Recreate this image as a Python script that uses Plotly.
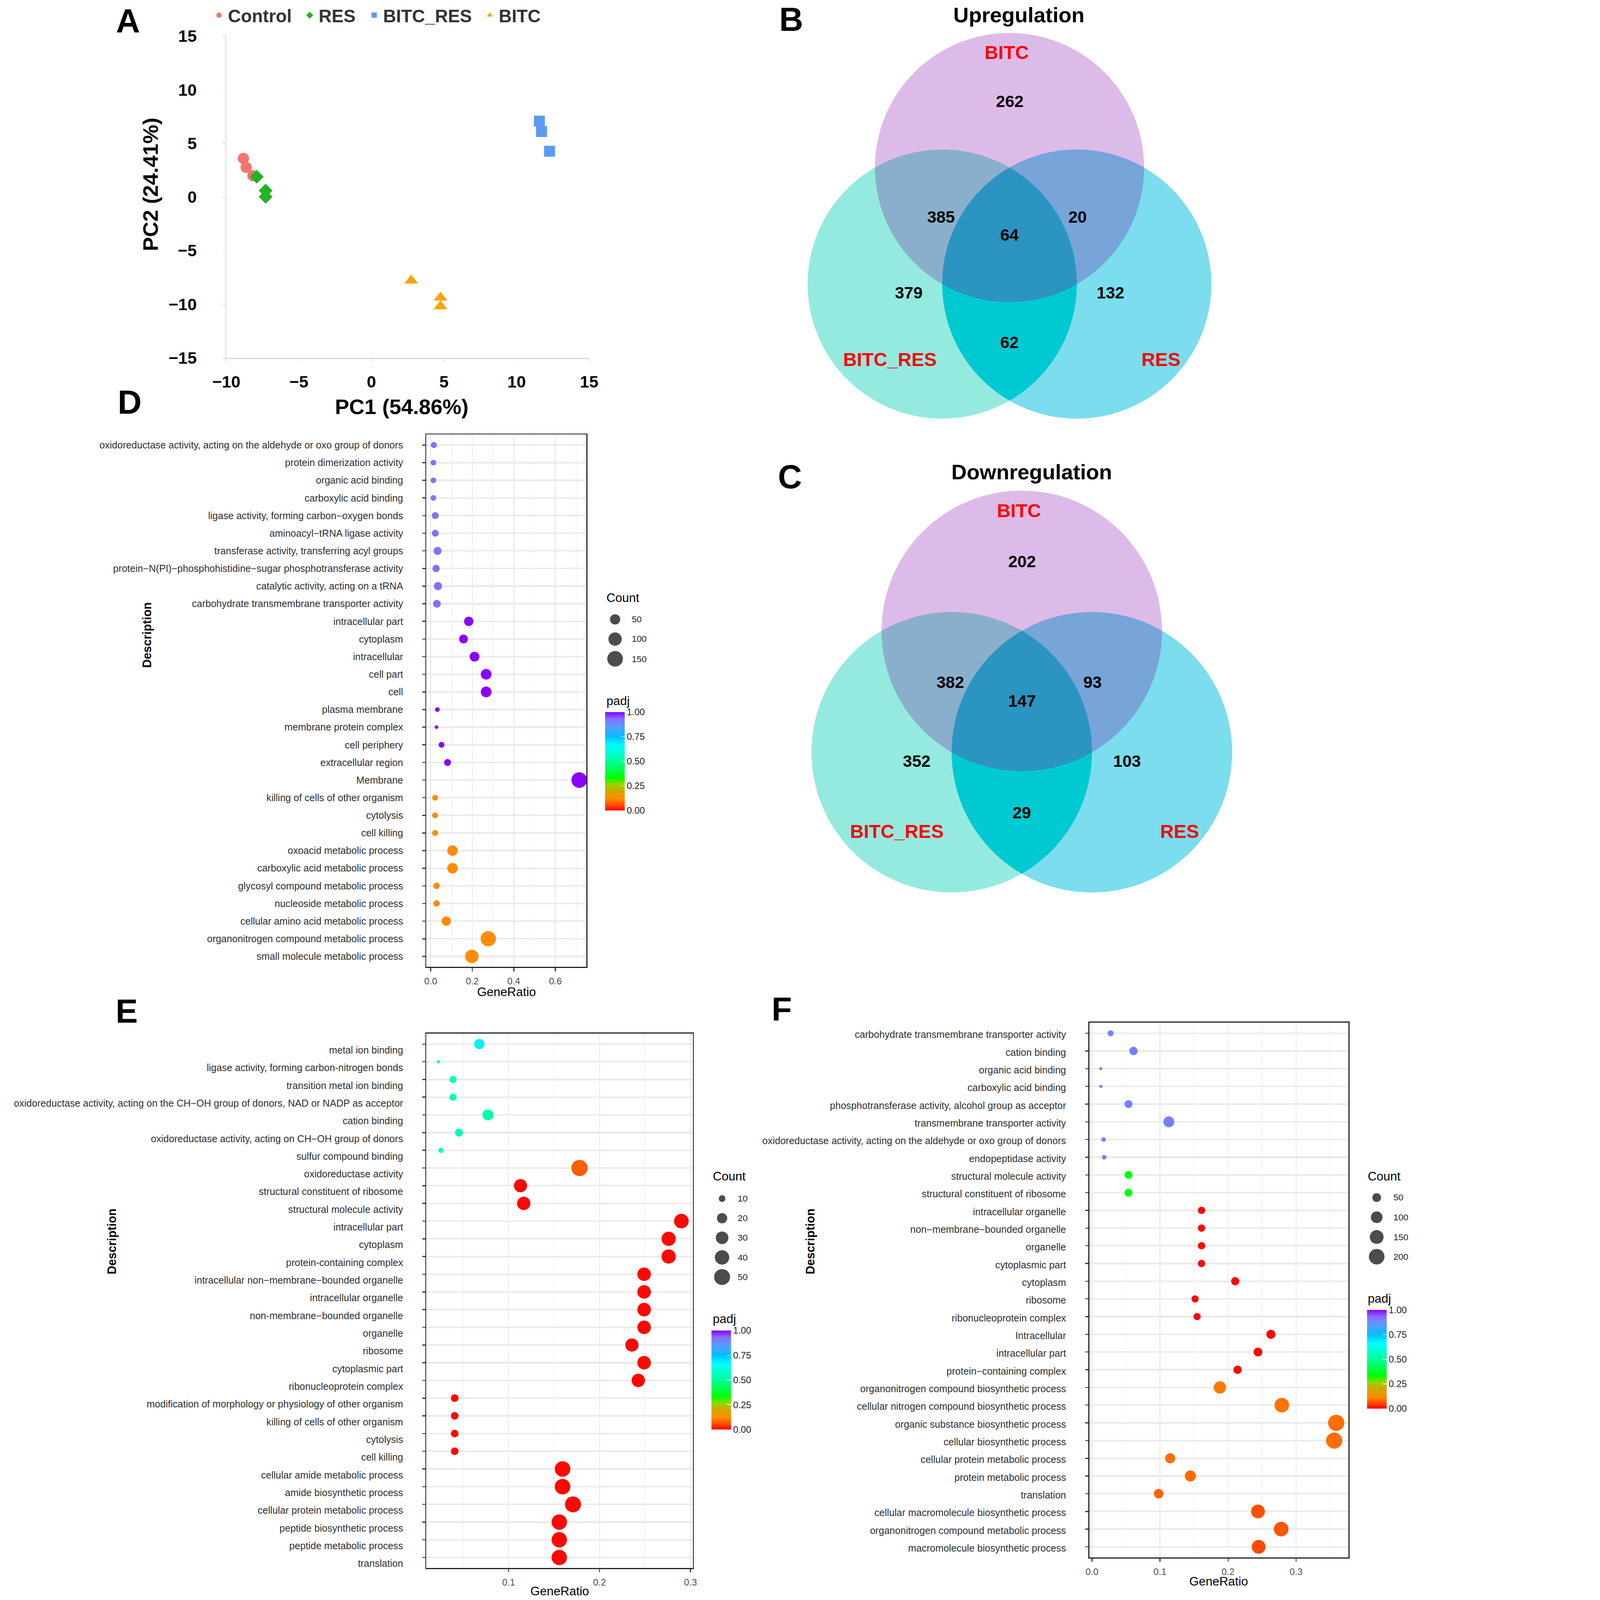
import numpy as np
import plotly.graph_objects as go

W, H = 4262, 4815
FONT = "Liberation Sans, Arial, sans-serif"

# ---------------- Panel A : PCA ----------------
control_pc1 = [-8.82, -8.63, -8.16]
control_pc2 = [3.59, 2.76, 1.98]
res_pc1 = [-7.90, -7.29, -7.29]
res_pc2 = [1.89, 0.59, 0.02]
bitcres_pc1 = [11.57, 11.72, 12.27]
bitcres_pc2 = [7.07, 6.10, 4.26]
bitc_pc1 = [2.74, 4.76, 4.76]
bitc_pc2 = [-7.79, -9.38, -10.19]
a_xticks = [-10, -5, 0, 5, 10, 15]
a_yticks = [-15, -10, -5, 0, 5, 10, 15]

# ---------------- Panels B / C : Venn ----------------
venn_sets = ["BITC", "BITC_RES", "RES"]
venn_regions = ["BITC only", "BITC&BITC_RES", "all", "BITC&RES",
                "BITC_RES only", "RES only", "BITC_RES&RES"]
up_counts = [262, 385, 64, 20, 379, 132, 62]
down_counts = [202, 382, 147, 93, 352, 103, 29]

# ---------------- Panel D ----------------
d_terms = [
    "oxidoreductase activity, acting on the aldehyde or oxo group of donors",
    "protein dimerization activity",
    "organic acid binding",
    "carboxylic acid binding",
    "ligase activity, forming carbon\u2212oxygen bonds",
    "aminoacyl\u2212tRNA ligase activity",
    "transferase activity, transferring acyl groups",
    "protein\u2212N(PI)\u2212phosphohistidine\u2212sugar phosphotransferase activity",
    "catalytic activity, acting on a tRNA",
    "carbohydrate transmembrane transporter activity",
    "intracellular part", "cytoplasm", "intracellular", "cell part", "cell",
    "plasma membrane", "membrane protein complex", "cell periphery",
    "extracellular region", "Membrane",
    "killing of cells of other organism", "cytolysis", "cell killing",
    "oxoacid metabolic process", "carboxylic acid metabolic process",
    "glycosyl compound metabolic process", "nucleoside metabolic process",
    "cellular amino acid metabolic process",
    "organonitrogen compound metabolic process",
    "small molecule metabolic process"]
d_ratio = [0.015, 0.013, 0.013, 0.013, 0.022, 0.022, 0.033, 0.026, 0.035, 0.030,
           0.183, 0.158, 0.211, 0.267, 0.267, 0.032, 0.028, 0.052, 0.081, 0.715,
           0.021, 0.021, 0.021, 0.105, 0.105, 0.028, 0.028, 0.075, 0.277, 0.198]
d_count = [12, 10, 10, 10, 17, 17, 25, 20, 27, 23,
           38, 33, 44, 56, 56, 7, 6, 11, 17, 150,
           11, 11, 11, 54, 54, 14, 14, 38, 142, 102]
d_padj = [0.93, 0.93, 0.93, 0.93, 0.93, 0.93, 0.93, 0.93, 0.93, 0.93,
          1.00, 1.00, 1.00, 1.00, 1.00, 1.00, 1.00, 1.00, 1.00, 1.00,
          0.12, 0.12, 0.12, 0.12, 0.12, 0.12, 0.12, 0.12, 0.12, 0.12]
d_count_legend = [50, 100, 150]

# ---------------- Panel E ----------------
e_terms = [
    "metal ion binding",
    "ligase activity, forming carbon-nitrogen bonds",
    "transition metal ion binding",
    "oxidoreductase activity, acting on the CH\u2212OH group of donors, NAD or NADP as acceptor",
    "cation binding",
    "oxidoreductase activity, acting on CH\u2212OH group of donors",
    "sulfur compound binding",
    "oxidoreductase activity",
    "structural constituent of ribosome",
    "structural molecule activity",
    "intracellular part", "cytoplasm", "protein-containing complex",
    "intracellular non\u2212membrane\u2212bounded organelle",
    "intracellular organelle", "non-membrane\u2212bounded organelle", "organelle",
    "ribosome", "cytoplasmic part", "ribonucleoprotein complex",
    "modification of morphology or physiology of other organism",
    "killing of cells of other organism", "cytolysis", "cell killing",
    "cellular amide metabolic process", "amide biosynthetic process",
    "cellular protein metabolic process", "peptide biosynthetic process",
    "peptide metabolic process", "translation"]
e_ratio = [0.0678, 0.0227, 0.0388, 0.0388, 0.0773, 0.0454, 0.0256, 0.178, 0.113, 0.1166,
           0.290, 0.276, 0.276, 0.249, 0.249, 0.249, 0.249, 0.2356, 0.249, 0.2426,
           0.0407, 0.0407, 0.0407, 0.0407, 0.1593, 0.1593, 0.1708, 0.1557, 0.1557, 0.1557]
e_count = [20, 7, 11, 11, 23, 13, 8, 52, 33, 34,
           41, 39, 39, 35, 35, 35, 35, 33, 35, 34,
           12, 12, 12, 12, 47, 47, 50, 46, 46, 46]
e_padj = [0.68, 0.58, 0.55, 0.55, 0.52, 0.54, 0.57, 0.075, 0.005, 0.005,
          0.005, 0.005, 0.005, 0.005, 0.005, 0.005, 0.005, 0.005, 0.005, 0.005,
          0.005, 0.005, 0.005, 0.005, 0.005, 0.005, 0.005, 0.005, 0.005, 0.005]
e_count_legend = [10, 20, 30, 40, 50]

# ---------------- Panel F ----------------
f_terms = [
    "carbohydrate transmembrane transporter activity", "cation binding",
    "organic acid binding", "carboxylic acid binding",
    "phosphotransferase activity, alcohol group as acceptor",
    "transmembrane transporter activity",
    "oxidoreductase activity, acting on the aldehyde or oxo group of donors",
    "endopeptidase activity", "structural molecule activity",
    "structural constituent of ribosome",
    "intracellular organelle", "non\u2212membrane\u2212bounded organelle", "organelle",
    "cytoplasmic part", "cytoplasm", "ribosome", "ribonucleoprotein complex",
    "Intracellular", "intracellular part", "protein\u2212containing complex",
    "organonitrogen compound biosynthetic process",
    "cellular nitrogen compound biosynthetic process",
    "organic substance biosynthetic process", "cellular biosynthetic process",
    "cellular protein metabolic process", "protein metabolic process", "translation",
    "cellular macromolecule biosynthetic process",
    "organonitrogen compound metabolic process",
    "macromolecule biosynthetic process"]
f_ratio = [0.0274, 0.061, 0.013, 0.013, 0.0537, 0.113, 0.017, 0.018, 0.0537, 0.0537,
           0.161, 0.161, 0.161, 0.161, 0.2105, 0.1515, 0.1545, 0.263, 0.244, 0.214,
           0.188, 0.279, 0.359, 0.356, 0.115, 0.1446, 0.098, 0.244, 0.278, 0.245]
f_count = [20, 45, 10, 10, 40, 84, 13, 13, 40, 40,
           33, 33, 33, 33, 43, 31, 32, 54, 50, 44,
           116, 172, 222, 220, 71, 89, 61, 151, 172, 151]
f_padj = [0.90, 0.90, 0.90, 0.90, 0.90, 0.90, 0.90, 0.90, 0.34, 0.34,
          0.005, 0.005, 0.005, 0.005, 0.005, 0.005, 0.005, 0.005, 0.005, 0.005,
          0.10, 0.095, 0.09, 0.09, 0.09, 0.085, 0.08, 0.06, 0.065, 0.055]
f_count_legend = [50, 100, 150, 200]

padj_ticks = [0.0, 0.25, 0.5, 0.75, 1.0]

# ---------------- helpers ----------------
def px(x):
    return x / W


def py(y):
    return 1 - y / H


def ggsize(c, cmin, cmax, dmin, dmax):
    c = np.asarray(c, float)
    f = np.clip((c - cmin) / (cmax - cmin), 0, 1)
    return dmin + (dmax - dmin) * np.sqrt(f)


def ann(text, x, y, size, color="black", bold=False, xanchor="center",
        yanchor="middle", angle=0):
    return dict(text=(f"<b>{text}</b>" if bold else text), x=px(x), y=py(y),
                xref="paper", yref="paper", showarrow=False,
                font=dict(family=FONT, size=size, color=color),
                xanchor=xanchor, yanchor=yanchor, textangle=angle)


RAINBOW = [[0.0, "#FF0000"], [0.05, "#FF4500"], [0.12, "#FF8C00"], [0.2, "#D0A800"],
           [0.27, "#90D800"], [0.33, "#00FF00"], [0.5, "#00FF9A"], [0.66, "#00FFFF"],
           [0.75, "#00BFFF"], [0.85, "#5A9CFF"], [0.93, "#8470FF"], [1.0, "#8B00FF"]]

fig = go.Figure()
annotations = []
shapes = []
legends = {}

# ---------------- Panel A traces (one legend box per group) ----------------
pca_specs = [
    ("Control", control_pc1, control_pc2, "circle", "#F2766E", 34, "legend", 632),
    ("RES", res_pc1, res_pc2, "diamond", "#22B422", 32, "legend2", 905),
    ("BITC_RES", bitcres_pc1, bitcres_pc2, "square", "#5B9BF5", 33, "legend3", 1099),
    ("BITC", bitc_pc1, bitc_pc2, "triangle-up", "#FBA40A", 36, "legend4", 1447),
]
for name, xs, ys, sym, col, sz, leg, lx in pca_specs:
    fig.add_trace(go.Scatter(
        x=xs, y=ys, mode="markers", name=name, xaxis="x", yaxis="y", legend=leg,
        marker=dict(symbol=sym, color=col, size=sz, line=dict(width=0)),
        cliponaxis=False, showlegend=True))
    legends[leg] = dict(orientation="h", x=px(lx), xanchor="left", y=py(4),
                        yanchor="top", itemwidth=44, borderwidth=0,
                        font=dict(family=FONT, size=54, color="#333", weight=700),
                        bgcolor="rgba(0,0,0,0)", itemsizing="trace")

# ---------------- Dot plots D/E/F ----------------
DOT = [
    (d_terms, d_ratio, d_count, d_padj, "2", 11, 47, (1821, 2142.5, 296)),
    (e_terms, e_ratio, e_count, e_padj, "3", 10, 49, (2141, 4004, 298)),
    (f_terms, f_ratio, f_count, f_padj, "4", 9, 49, (4114, 3942, 297)),
]
size_params = []
for terms, ratio, count, padj, ax, dmin, dmax, (cbx, cby, cblen) in DOT:
    cmin, cmax = min(count), max(count)
    size_params.append((cmin, cmax, dmin, dmax))
    fig.add_trace(go.Scatter(
        x=ratio, y=terms, mode="markers", xaxis="x" + ax, yaxis="y" + ax,
        showlegend=False, cliponaxis=False,
        marker=dict(size=ggsize(count, cmin, cmax, dmin, dmax), color=padj,
                    cmin=0, cmax=1, colorscale=RAINBOW, line=dict(width=0),
                    opacity=1, showscale=True,
                    colorbar=dict(x=px(cbx), xanchor="left", y=py(cby), yanchor="top",
                                  len=cblen, lenmode="pixels", thickness=59,
                                  thicknessmode="pixels", xpad=0, ypad=0,
                                  outlinewidth=0, tickvals=padj_ticks,
                                  ticktext=[f"{v:.2f}" for v in padj_ticks],
                                  ticks="inside", tickcolor="white", ticklen=12,
                                  tickwidth=2,
                                  tickfont=dict(family=FONT, size=28, color="#222")))))

legend_geom = [  # dot x, first dot y, spacing, label x, title x, count title y, padj title y
    (1851, 1864, 59.3, 1899, 1823, 1799, 2109),
    (2173, 3607, 59.0, 2218, 2143, 3540, 3969),
    (4143, 3604, 59.3, 4191, 4114, 3540, 3907),
]
for vals, (cmin, cmax, dmin, dmax), (lx, ly, ls, tx, ttx, cty, pty) in zip(
        [d_count_legend, e_count_legend, f_count_legend], size_params, legend_geom):
    ys = [ly + i * ls for i in range(len(vals))]
    fig.add_trace(go.Scatter(
        x=[lx] * len(vals), y=ys, mode="markers", xaxis="x5", yaxis="y5",
        showlegend=False, cliponaxis=False, hoverinfo="skip",
        marker=dict(size=ggsize(vals, cmin, cmax, dmin, dmax), color="black",
                    line=dict(width=0))))
    for v, yy in zip(vals, ys):
        annotations.append(ann(str(v), tx, yy, 27, "#222", xanchor="left"))
    annotations.append(ann("Count", ttx, cty, 37, "black", xanchor="left"))
    annotations.append(ann("padj", ttx, pty, 37, "black", xanchor="left"))

# ---------------- Venn diagrams ----------------
venn_colors_solo = ["#DDBBE8", "#95EADF", "#7BDDEE"]
venn_colors_pair = {(0, 1): "#8AAFCC", (0, 2): "#77A4D9", (1, 2): "#00C9D1"}
venn_color_all = "#2C94C0"
venn_label_offsets = [(0, -1.07), (-0.51, -0.21), (0, -0.077), (0.505, -0.21),
                      (-0.75, 0.353), (0.75, 0.353), (0, 0.72)]
venn_set_offsets = [(-0.02, -1.435), (-0.89, 0.85), (1.125, 0.85)]
venn_geoms = [
    (3038, 738, 405, "Upregulation", up_counts),
    (3075, 2142, 422, "Downregulation", down_counts),
]


def inter_polygon(centers, r, n=1440):
    pts = []
    t = np.linspace(0, 2 * np.pi, n, endpoint=False)
    for i, (cx, cy) in enumerate(centers):
        xs = cx + r * np.cos(t)
        ys = cy + r * np.sin(t)
        ok = np.ones(n, bool)
        for j, (ox, oy) in enumerate(centers):
            if j != i:
                ok &= (xs - ox) ** 2 + (ys - oy) ** 2 <= r * r * (1 + 1e-9)
        pts.append(np.c_[xs[ok], ys[ok]])
    P = np.vstack(pts)
    c = P.mean(0)
    P = P[np.argsort(np.arctan2(P[:, 1] - c[1], P[:, 0] - c[0]))]
    return "M " + " L ".join(f"{px(x):.6f},{py(y):.6f}" for x, y in P) + " Z"


for cx, cy, r, title, counts in venn_geoms:
    d = r / np.sqrt(3)
    centers = [(cx, cy - d), (cx - r / 2, cy + d / 2), (cx + r / 2, cy + d / 2)]
    for (ccx, ccy), col in zip(centers, venn_colors_solo):
        shapes.append(dict(type="circle", xref="paper", yref="paper",
                           x0=px(ccx - r), x1=px(ccx + r), y0=py(ccy + r), y1=py(ccy - r),
                           fillcolor=col, line=dict(width=0), layer="below"))
    for (i, j), col in venn_colors_pair.items():
        shapes.append(dict(type="path", xref="paper", yref="paper",
                           path=inter_polygon([centers[i], centers[j]], r),
                           fillcolor=col, line=dict(width=0), layer="below"))
    shapes.append(dict(type="path", xref="paper", yref="paper",
                       path=inter_polygon(centers, r), fillcolor=venn_color_all,
                       line=dict(width=0), layer="below"))
    for v, (ox, oy) in zip(counts, venn_label_offsets):
        annotations.append(ann(str(v), cx + ox * r, cy + oy * r, 50, "black", bold=True))
    for s, (ox, oy) in zip(venn_sets, venn_set_offsets):
        annotations.append(ann(s, cx + ox * r, cy + oy * r, 57, "#FF0000", bold=True))
    annotations.append(ann(title, cx + 0.07 * r, cy - 1.71 * r, 64, "black", bold=True))

# ---------------- titles / panel letters ----------------
annotations += [
    ann("PC2 (24.41%)", 453, 555, 64, "black", bold=True, angle=-90),
    ann("PC1 (54.86%)", 1209, 1224, 64, "black", bold=True),
    ann("Description", 442, 1911, 36, "black", bold=True, angle=-90),
    ann("GeneRatio", 1524, 2985, 37, "black"),
    ann("Description", 336, 3736, 36, "black", bold=True, angle=-90),
    ann("GeneRatio", 1684, 4788, 37, "black"),
    ann("Description", 2438, 3736, 36, "black", bold=True, angle=-90),
    ann("GeneRatio", 3668, 4758, 37, "black"),
]
for letter, lx, ly in [("A", 385, 62), ("B", 2381, 58), ("C", 2377, 1435),
                       ("D", 390, 1210), ("E", 381, 3043), ("F", 2352, 3037)]:
    annotations.append(ann(letter, lx, ly, 100, "black", bold=True))

# ---------------- axes ----------------
A_LINE = "#D3D7E5"
layout_axes = dict(
    xaxis=dict(domain=[px(681), px(1773)], range=[-10, 15], anchor="y",
               tickvals=a_xticks, showgrid=False, zeroline=False, showline=True,
               linecolor=A_LINE, linewidth=3, ticks="outside", ticklen=8,
               tickcolor=A_LINE, tickwidth=2, ticklabelstandoff=18,
               tickfont=dict(family=FONT, size=50, color="black", weight=700)),
    yaxis=dict(domain=[py(1077), py(108.5)], range=[-15, 15], anchor="x",
               tickvals=a_yticks, showgrid=False, zeroline=False, showline=True,
               linecolor=A_LINE, linewidth=3, ticks="outside", ticklen=8,
               tickcolor=A_LINE, tickwidth=2, ticklabelstandoff=68,
               tickfont=dict(family=FONT, size=50, color="black", weight=700)),
    xaxis5=dict(domain=[0, 1], range=[0, W], anchor="y5", visible=False, fixedrange=True),
    yaxis5=dict(domain=[0, 1], range=[H, 0], anchor="x5", visible=False, fixedrange=True),
)

dot_axes = [
    ("2", (1283, 1765), (1307.5, 2910), [-0.021, 0.75], 0.2, 0.1, d_terms, 0),
    ("3", (1283, 2085), (3110, 4719), [0.0095, 0.3026], 0.1, 0.05, e_terms, -18),
    ("4", (3278, 4058), (3077.5, 4687), [-0.004, 0.377], 0.1, 0.05, f_terms, -4),
]
for ax, (x0, x1), (y0, y1), xr, dt, mdt, terms, shift in dot_axes:
    layout_axes["xaxis" + ax] = dict(
        domain=[px(x0), px(x1)], range=xr, anchor="y" + ax, tick0=0, dtick=dt,
        tickformat=".1f", showgrid=True, gridcolor="#EBEBEB", gridwidth=3,
        minor=dict(dtick=mdt, tick0=0, showgrid=True, gridcolor="#F2F2F2", gridwidth=2),
        zeroline=False, showline=True, linecolor="#222", linewidth=3, mirror=True,
        ticks="outside", ticklen=10, tickwidth=3, tickcolor="#333",
        ticklabelstandoff=6,
        tickfont=dict(family=FONT, size=28, color="#4D4D4D"))
    layout_axes["yaxis" + ax] = dict(
        domain=[py(y1), py(y0)], type="category", categoryorder="array",
        categoryarray=terms, range=[len(terms) - 0.4, -0.6], anchor="x" + ax,
        showgrid=True, gridcolor="#EBEBEB", gridwidth=5, zeroline=False,
        showline=True, linecolor="#222", linewidth=3, mirror=True,
        ticks="outside", ticklen=9, tickwidth=3, tickcolor="#333",
        ticklabelstandoff=52, ticklabelshift=shift,
        tickfont=dict(family=FONT, size=29.5, color="#2E2E2E"))

fig.update_layout(
    width=W, height=H, margin=dict(l=0, r=0, t=0, b=0, pad=0, autoexpand=False),
    paper_bgcolor="white", plot_bgcolor="rgba(0,0,0,0)",
    font=dict(family=FONT, color="black"),
    showlegend=True,
    annotations=annotations, shapes=shapes, hovermode=False,
    **legends, **layout_axes)

# Keep the whole fixed-size figure inside the browser viewport (no-op when the
# viewport is at least W x H): remove page margins and scale down only if needed.
FIT_JS = """
(function(){
  var gd = document.getElementById('{plot_id}');
  document.documentElement.style.margin = '0';
  document.body.style.margin = '0';
  document.body.style.overflow = 'hidden';
  function fit(){
    var s = Math.min(window.innerWidth / %d, window.innerHeight / %d, 1);
    gd.style.transformOrigin = '0 0';
    gd.style.transform = (s < 0.9999) ? ('scale(' + s + ')') : 'none';
  }
  fit();
  window.addEventListener('resize', fit);
})();
""" % (W, H)

fig.write_html("out.html", post_script=FIT_JS, config={"displayModeBar": False})
